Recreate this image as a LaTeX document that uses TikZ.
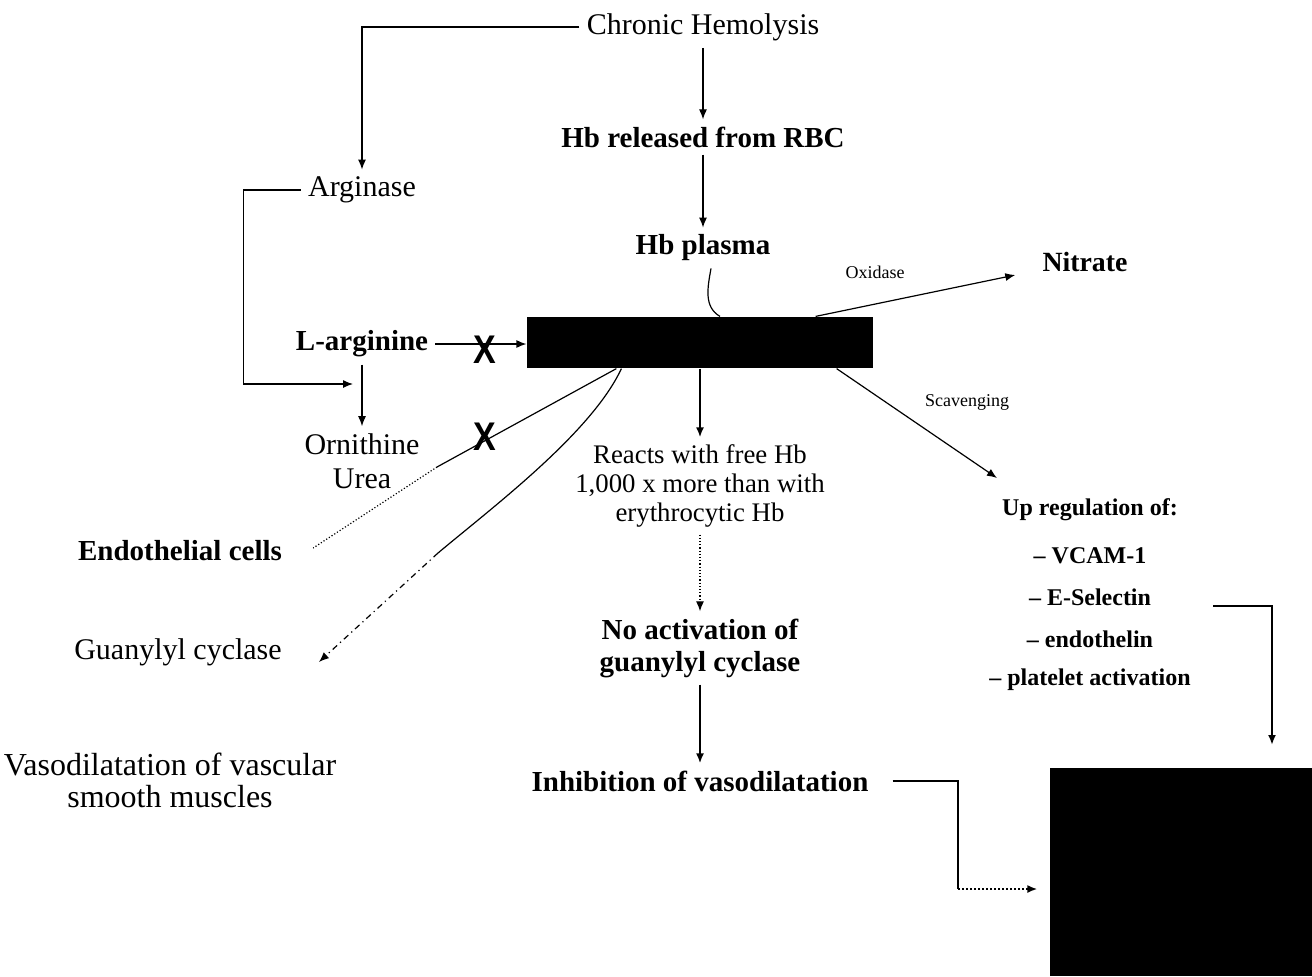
\documentclass[tikz,border=0pt]{standalone}
\usepackage{fontspec}
\setmainfont{Liberation Serif}
\newfontfamily\xfont{Liberation Sans}
\usetikzlibrary{arrows.meta,calc}

\tikzset{
  txt/.style={font=\fontsize{15}{15}\selectfont, align=center},
  btxt/.style={font=\bfseries\fontsize{14.5}{16}\selectfont, align=center},
  rtxt/.style={font=\bfseries\fontsize{12}{14}\selectfont},
  small/.style={font=\fontsize{9}{11}\selectfont},
  xmark/.style={font=\xfont\bfseries\fontsize{20}{20}\selectfont, inner sep=0pt},
  blackbox/.style={fill=black, inner sep=0pt},
  arr/.style={-{Latex[length=5pt,width=4pt]}},
}

\begin{document}
\begin{tikzpicture}[x=0.5pt,y=-0.5pt,line width=0.6pt]
\useasboundingbox (0,0) rectangle (1312,976);

% black boxes
\node[blackbox, minimum width=173pt, minimum height=25.5pt] (NO) at (700,342.5) {};
\node[blackbox, minimum width=131pt, minimum height=104pt] (out) at (1181,872) {};

% middle column
\node[txt] (hemo) at (703,27) {Chronic Hemolysis};
\node[btxt] (hbrbc) at (703,137) {Hb released from RBC};
\node[btxt] (hbp) at (703,248) {Hb plasma};
\node[font=\fontsize{13.4}{14.5}\selectfont, align=center] (react) at (700,486) {Reacts with free Hb\\1,000 x more than with\\erythrocytic Hb};
\node[btxt] (noact) at (700,648) {No activation of\\guanylyl cyclase};
\node[btxt] (inhib) at (700,781) {Inhibition of vasodilatation};

% left column
\node[txt] (arg) at (362,190) {Arginase};
\node[btxt] (larg) at (362,344) {L-arginine};
\node[txt, font=\fontsize{15}{17}\selectfont] (orn) at (362,461) {Ornithine\\Urea};
\node[btxt] (endo) at (180,551) {Endothelial cells};
\node[txt] (gc) at (178,652) {Guanylyl cyclase};
\node[txt, font=\fontsize{16}{16}\selectfont] (vaso) at (170,780) {Vasodilatation of vascular\\smooth muscles};

% right column
\node[btxt, font=\bfseries\fontsize{13.9}{16}\selectfont] (nitrate) at (1085,262) {Nitrate};
\node[small] (oxi) at (875,272) {Oxidase};
\node[small] (scav) at (967,402) {Scavenging};
\node[rtxt] (upreg) at (1090,510) {Up regulation of:};
\foreach \y/\t/\n in {556/VCAM-1/vcam,597/E-Selectin/esel,639/endothelin/endoth,680/platelet activation/plt}
  \node[rtxt] (\n) at (1090,\y) {– \t};

\foreach \y [count=\i] in {350,437}
  \node[xmark] (x\i) at (485,\y) {\scalebox{0.85}[1]{X}};

\coordinate (orncorner) at (353,384);
\coordinate (ebreak) at (437,467);
\coordinate (gbreak) at (438,553);
\coordinate (ibend) at (958,889);
\coordinate (uptip) at (1272,745);
\coordinate (scavtip) at (997,478);

% connectors
\draw[arr] (hemo) -- (hbrbc);
\draw[arr] (hbrbc) -- (hbp);
\draw[arr] (hemo.west) -| (arg.north);
\draw[arr] (arg.west) -- ++(-57,0) |- (orncorner);
\draw[arr] (larg) -- (orn);
\draw[arr] (larg.east) -- (larg.east -| NO.west);
\draw ($(hbp.south)+(8,0)$) to[out=-100,in=150] ($(NO.north)+(20,0)$);
\draw[arr] ($(NO.north east)+(-58,0)$) -- ($(nitrate.west)+(-20,13)$);
\draw[arr,line width=1pt] (NO) -- (react);
\draw[arr,densely dotted] (react) -- (noact);
\draw[arr,line width=1pt] (noact) -- (inhib);
\draw[line width=1pt] ($(inhib.east)+(17,0)$) -| (ibend);
\draw[arr,densely dotted,line width=1pt] (ibend) -- ($(out.west)+(-12,17)$);
\draw ($(NO.south west)+(90,0)$) -- (ebreak);
\draw[densely dotted] (ebreak) -- ($(endo.east)+(24,-3)$);
\draw ($(NO.south west)+(95,0)$) to[out=-115,in=40,looseness=0.7] (gbreak);
\draw[arr,dash dot] (gbreak) -- ($(gc.east)+(30,10)$);
\draw[arr] ($(NO.south east)+(-37,0)$) -- (scavtip);
\draw[arr,line width=1pt] ($(esel.east)+(55,9)$) -| (uptip);

\end{tikzpicture}
\end{document}
